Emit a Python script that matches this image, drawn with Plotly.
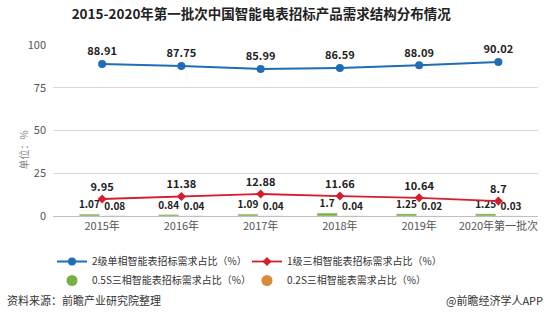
import plotly.graph_objects as go

categories = ["2015年", "2016年", "2017年", "2018年", "2019年", "2020年第一批次"]
s_2级单相 = [88.91, 87.75, 85.99, 86.59, 88.09, 90.02]
s_1级三相 = [9.95, 11.38, 12.88, 11.66, 10.64, 8.7]
s_05S = [1.07, 0.84, 1.09, 1.7, 1.25, 1.25]
s_02S = [0.08, 0.04, 0.04, 0.04, 0.02, 0.03]
y_ticks = [0, 25, 50, 75, 100]

names = ["2级单相智能表招标需求占比（%）", "1级三相智能表招标需求占比（%）",
         "0.5S三相智能表招标需求占比（%）", "0.2S三相智能表需求占比（%）"]

BLUE = "#1f6db5"
RED = "#d71c2b"
GREEN = "#78b045"
ORANGE = "#d98a3c"
FONT = "Noto Sans CJK SC"
lblfont = dict(family=FONT, size=11, color="#222222", weight="bold")
barfont = dict(family=FONT, size=10, color="#222222", weight="bold")

fig = go.Figure()
fig.add_trace(go.Bar(x=categories, y=s_05S, marker_color=GREEN, text=[str(v) for v in s_05S],
                     textposition="outside", textfont=barfont, showlegend=False, cliponaxis=False,
                     constraintext="none"))
fig.add_trace(go.Bar(x=categories, y=s_02S, marker_color=ORANGE, text=[str(v) for v in s_02S],
                     textposition="outside", textfont=barfont, showlegend=False, cliponaxis=False,
                     constraintext="none"))
fig.add_trace(go.Scatter(x=categories, y=s_2级单相, mode="lines+markers+text", name=names[0],
                         line=dict(color=BLUE, width=2), marker=dict(size=8, color=BLUE),
                         text=[str(v) for v in s_2级单相], textposition="top center",
                         textfont=lblfont, cliponaxis=False))
fig.add_trace(go.Scatter(x=categories, y=s_1级三相, mode="lines+markers+text", name=names[1],
                         line=dict(color=RED, width=1.8), marker=dict(size=7, color=RED, symbol="diamond"),
                         text=[str(v) for v in s_1级三相], textposition="top center",
                         textfont=lblfont, cliponaxis=False))
# legend-only entries for the bar series (circle symbols as in the reference)
fig.add_trace(go.Scatter(x=[None], y=[None], mode="markers", name=names[2],
                         marker=dict(size=11, color=GREEN)))
fig.add_trace(go.Scatter(x=[None], y=[None], mode="markers", name=names[3],
                         marker=dict(size=11, color=ORANGE)))

fig.update_layout(
    width=550, height=319,
    margin=dict(l=53, r=12, t=45, b=103),
    plot_bgcolor="white", paper_bgcolor="white",
    font=dict(family=FONT, color="#444444"),
    title=dict(text="<b>2015-2020年第一批次中国智能电表招标产品需求结构分布情况</b>",
               x=0.475, xanchor="center", y=1 - 14 / 319, yanchor="middle", yref="container",
               font=dict(size=13.5, color="#222222", family=FONT)),
    barmode="group", bargap=0.36, bargroupgap=0.2,
    showlegend=True,
    legend=dict(orientation="h", x=0.40, xanchor="center", y=1 - 247 / 319, yanchor="top",
                yref="container", entrywidth=150, entrywidthmode="pixels",
                font=dict(size=10, color="#333333", family=FONT), tracegroupgap=0,
                itemwidth=30),
    xaxis=dict(range=[-0.62, 5.5], showgrid=False, showline=True, linecolor="#bfbfbf",
               linewidth=1, ticks="", tickfont=dict(size=11, color="#555555", family=FONT)),
    yaxis=dict(range=[0, 100], tickvals=y_ticks, showgrid=True, gridcolor="#d9d9d9",
               zeroline=False, showline=False, ticks="", ticklabelstandoff=6,
               tickfont=dict(size=11, color="#555555", family=FONT)),
    annotations=[
        dict(text="单位：%", x=(13 - 53) / 485, y=(216 - 150) / 171, xref="paper", yref="paper",
             textangle=-90, showarrow=False, font=dict(size=10, color="#888888", family=FONT)),
        dict(text="资料来源：前瞻产业研究院整理", x=-48 / 485, y=(216 - 300) / 171,
             xref="paper", yref="paper", xanchor="left", yanchor="middle", showarrow=False,
             font=dict(size=11, color="#333333", family=FONT)),
        dict(text="@前瞻经济学人APP", x=(545 - 53) / 485, y=(216 - 300) / 171,
             xref="paper", yref="paper", xanchor="right", yanchor="middle", showarrow=False,
             font=dict(size=11, color="#333333", family=FONT)),
    ],
)

fig.write_html("out.html")
